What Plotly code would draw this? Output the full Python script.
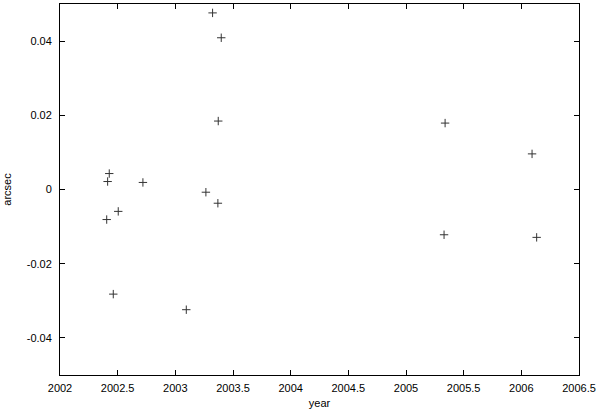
import plotly.graph_objects as go

years = [2003.323, 2003.398, 2003.372, 2002.427, 2002.413, 2002.719, 2003.265, 2003.369,
         2002.505, 2002.405, 2002.462, 2003.095, 2005.339, 2006.093, 2005.330, 2006.133]
arcsec = [0.0476, 0.0409, 0.01845, 0.0043, 0.00215, 0.0019, -0.00073, -0.0037,
          -0.0059, -0.0081, -0.0282, -0.0324, 0.0179, 0.0096, -0.0122, -0.0129]

x_ticks = [2002, 2002.5, 2003, 2003.5, 2004, 2004.5, 2005, 2005.5, 2006, 2006.5]
x_tick_labels = ["2002", "2002.5", "2003", "2003.5", "2004", "2004.5", "2005", "2005.5", "2006", "2006.5"]
y_ticks = [-0.04, -0.02, 0, 0.02, 0.04]
y_tick_labels = ["-0.04", "-0.02", "0", "0.02", "0.04"]

fig = go.Figure(go.Scatter(
    x=years, y=arcsec, mode="markers",
    marker=dict(symbol="cross-thin", size=6, line=dict(color="#333333", width=1)),
    showlegend=False, hoverinfo="skip",
))

font = dict(family="Liberation Sans, Arial, sans-serif", size=11, color="black")
axis_common = dict(
    showline=True, linecolor="black", linewidth=1, mirror="ticks",
    ticks="inside", ticklen=5, tickcolor="black", tickwidth=1,
    showgrid=False, zeroline=False, tickfont=font,
)
fig.update_xaxes(range=[2002, 2006.5], tickvals=x_ticks, ticktext=x_tick_labels,
                 title=dict(text="year", font=font, standoff=6), automargin=False,
                 ticklabelstandoff=3, **axis_common)
fig.update_yaxes(range=[-0.05, 0.05], tickvals=y_ticks, ticktext=y_tick_labels,
                 title=dict(text="arcsec", font=font, standoff=12), automargin=False,
                 ticklabelstandoff=5, **axis_common)
fig.update_layout(
    width=600, height=412,
    margin=dict(l=60, r=21, t=4, b=37),
    plot_bgcolor="white", paper_bgcolor="white",
    font=font,
)
fig.write_html("out.html", config={"displayModeBar": False},
               post_script="document.body.style.margin='0';")
